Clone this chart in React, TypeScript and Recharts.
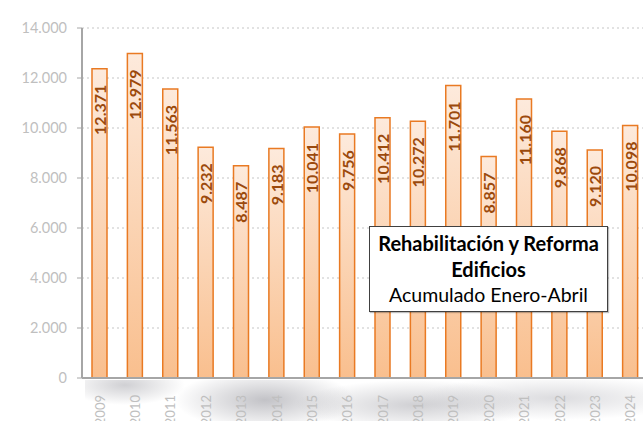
import { BarChart, Bar, XAxis, YAxis, CartesianGrid, LabelList } from "recharts";

const years = ["2009", "2010", "2011", "2012", "2013", "2014", "2015", "2016", "2017", "2018", "2019", "2020", "2021", "2022", "2023", "2024"];
const viviendas = [12371, 12979, 11563, 9232, 8487, 9183, 10041, 9756, 10412, 10272, 11701, 8857, 11160, 9868, 9120, 10098];
const yTicks = [0, 2000, 4000, 6000, 8000, 10000, 12000, 14000];

const data = years.map((y, i) => ({ year: y, value: viviendas[i] }));

const fmt = (v: number) => v.toLocaleString("de-DE");

const font = "Lato, 'Open Sans', sans-serif";

function YearTick(props: any) {
  const { x, y, payload } = props;
  return (
    <text
      x={x}
      y={y + 9}
      transform={`rotate(-90 ${x} ${y + 9})`}
      textAnchor="end"
      dominantBaseline="central"
      fontSize={13}
      fontFamily={font}
      fill="#BFBFBF"
    >
      {payload.value}
    </text>
  );
}

function ValueLabel(props: any) {
  const { x, y, width, value } = props;
  const cx = x + width / 2;
  const cy = y + 16;
  return (
    <text
      x={cx}
      y={cy}
      transform={`rotate(-90 ${cx} ${cy})`}
      textAnchor="end"
      dominantBaseline="central"
      fontSize={16}
      fontWeight="bold"
      fontFamily={font}
      fill="#9C4A0C"
    >
      {fmt(value)}
    </text>
  );
}

export default function App() {
  return (
    <div style={{ position: "absolute", left: 0, top: 0, width: 643, height: 421, overflow: "hidden", background: "#fff" }}>
      {/* soft grey watermark under the axis */}
      <div
        style={{
          position: "absolute",
          left: 85,
          top: 380,
          width: 560,
          height: 41,
          background:
            "radial-gradient(ellipse 90px 30px at 180px 20px, rgba(120,120,130,0.45), transparent), radial-gradient(ellipse 120px 25px at 330px 25px, rgba(120,120,130,0.35), transparent), radial-gradient(ellipse 60px 20px at 40px 5px, rgba(120,120,130,0.35), transparent), radial-gradient(ellipse 140px 22px at 470px 18px, rgba(140,140,150,0.3), transparent)",
        }}
      />
      <BarChart
        width={650}
        height={421}
        data={data}
        margin={{ top: 28, right: 2, bottom: 0, left: 0 }}
        barCategoryGap={0}
        style={{ position: "absolute", left: 0, top: 0 }}
      >
        <defs>
          <linearGradient id="barFill" x1="0" y1="0" x2="0" y2="1">
            <stop offset="0%" stopColor="#FDEADC" />
            <stop offset="100%" stopColor="#F9BF8E" />
          </linearGradient>
        </defs>
        <CartesianGrid vertical={false} stroke="#D9D9D9" strokeDasharray="2 3" strokeWidth={1.5} />
        <XAxis
          dataKey="year"
          height={43}
          tickLine={false}
          axisLine={{ stroke: "#A6A6A6", strokeWidth: 2 }}
          tick={<YearTick />}
          interval={0}
        />
        <YAxis
          width={82}
          domain={[0, 14000]}
          ticks={yTicks}
          tickFormatter={fmt}
          tickSize={5}
          tickMargin={10}
          tickLine={{ stroke: "#A6A6A6" }}
          axisLine={{ stroke: "#A6A6A6", strokeWidth: 2 }}
          tick={{ fontSize: 14.5, fill: "#BFBFBF", fontFamily: font }}
        />
        <Bar dataKey="value" barSize={15} fill="url(#barFill)" stroke="#E97A23" strokeWidth={1.5} isAnimationActive={false}>
          <LabelList dataKey="value" content={<ValueLabel />} />
        </Bar>
      </BarChart>
      <div
        style={{
          position: "absolute",
          left: 369,
          top: 226,
          width: 237,
          height: 84,
          border: "1px solid #404040",
          background: "#fff",
          fontFamily: font,
          fontSize: 19.5,
          lineHeight: "26px",
          textAlign: "center",
          color: "#000",
          boxShadow: "1px 1px 1px rgba(0,0,0,0.25)",
        }}
      >
        <div style={{ fontWeight: "bold", fontSize: 20, marginTop: 3 }}>Rehabilitación y Reforma</div>
        <div style={{ fontWeight: "bold", fontSize: 20 }}>Edificios</div>
        <div>Acumulado Enero-Abril</div>
      </div>
    </div>
  );
}
